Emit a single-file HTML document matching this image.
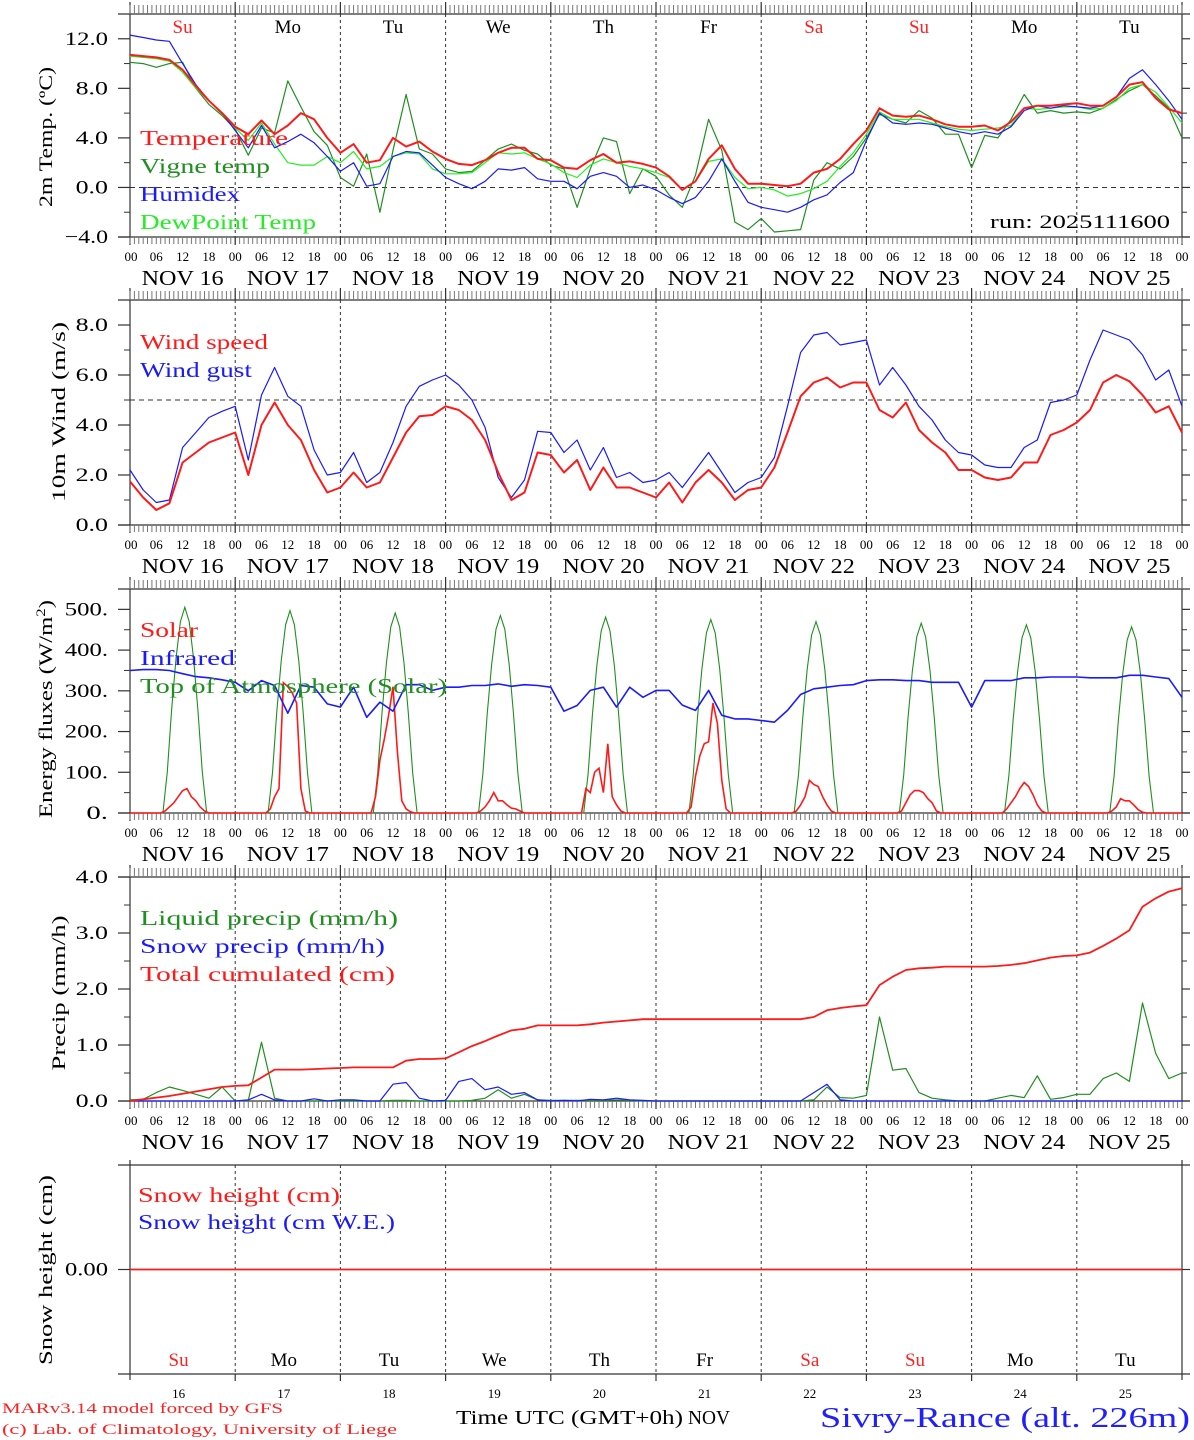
<!DOCTYPE html>
<html><head><meta charset="utf-8"><style>
html,body{margin:0;padding:0;background:#fff;}
svg{display:block;font-family:"Liberation Serif","DejaVu Serif",serif;}
</style></head><body>
<svg id="chart" xmlns="http://www.w3.org/2000/svg" width="1194" height="1440" viewBox="0 0 1194 1440">
<g id="static">
<text x="2" y="1413" fill="#ff2020" font-size="15" textLength="281" lengthAdjust="spacingAndGlyphs">MARv3.14 model forced by GFS</text>
<text x="2" y="1434" fill="#ff2020" font-size="15" textLength="395" lengthAdjust="spacingAndGlyphs">(c) Lab. of Climatology, University of Liege</text>
<text x="456" y="1424" fill="#000" font-size="20" textLength="227" lengthAdjust="spacingAndGlyphs">Time UTC (GMT+0h)</text>
<text x="688" y="1424" fill="#000" font-size="20" textLength="42" lengthAdjust="spacingAndGlyphs">NOV</text>
<text x="820" y="1427" fill="#2020ff" font-size="28" textLength="370" lengthAdjust="spacingAndGlyphs">Sivry-Rance (alt. 226m)</text>
<text x="990" y="228" fill="#000" font-size="19" textLength="180" lengthAdjust="spacingAndGlyphs">run: 2025111600</text>
</g>
</svg>
<script>
// ---------- data (3-hourly, 16 Nov 00h .. 26 Nov 00h) ----------
const dayNames = ["Su","Mo","Tu","We","Th","Fr","Sa","Su","Mo","Tu"];
const dayNums = ["16","17","18","19","20","21","22","23","24","25"];
const hourLabels = ["00","06","12","18"];
const tempTicks = ["12.0","8.0","4.0","0.0","-4.0"];
const windTicks = ["8.0","6.0","4.0","2.0","0.0"];
const fluxTicks = ["500.","400.","300.","200.","100.","0."];
const precipTicks = ["4.0","3.0","2.0","1.0","0.0"];

const temperature = [10.7,10.6,10.5,10.3,9.5,8.2,7.0,6.0, 4.9,4.3,5.4,4.3,5.0,6.0,5.5,4.0, 2.8,3.5,2.0,2.2,4.0,3.3,3.7,2.9, 2.3,1.9,1.8,2.2,2.8,3.2,3.2,2.3, 2.2,1.6,1.5,2.2,2.7,2.0,2.1,1.9, 1.6,0.9,-0.2,0.5,2.3,3.4,1.5,0.3, 0.3,0.2,0.1,0.3,1.2,1.5,2.3,3.5, 4.6,6.4,5.8,5.7,5.8,5.5,5.1,4.9, 4.9,5.0,4.6,5.3,6.4,6.6,6.6,6.7, 6.8,6.6,6.6,7.3,8.3,8.5,7.2,6.3,6.0];
const vigneTemp = [10.1,10.0,9.7,10.0,10.1,8.0,6.7,5.8, 4.7,2.6,4.8,4.4,8.6,6.5,4.5,3.4, 0.8,0.1,2.7,-2.0,3.0,7.5,3.1,2.7, 1.5,1.2,1.3,2.2,3.1,3.5,3.0,2.7, 1.8,1.5,-1.6,1.5,4.0,3.7,-0.5,1.5, 0.9,-0.6,-1.6,1.0,5.5,3.0,-2.8,-3.4, -2.5,-3.6,-3.5,-3.4,0.6,2.0,1.5,2.5, 4.0,5.9,5.5,5.2,6.2,5.6,4.3,4.3, 1.6,4.2,4.0,5.5,7.5,6.0,6.2,6.0, 6.1,6.0,6.4,7.1,7.8,8.3,7.4,6.4,4.0];
const humidex = [12.3,12.1,11.9,11.8,10.0,8.3,7.0,6.0, 4.6,3.2,5.0,3.2,3.7,4.3,3.6,2.5, 1.3,2.0,0.1,0.3,2.5,2.9,2.8,1.8, 0.8,0.3,-0.1,0.5,1.5,1.4,1.6,0.7, 0.5,0.5,-0.1,0.9,1.2,0.9,0.0,0.2, -0.2,-0.8,-1.3,-0.8,0.5,2.3,0.5,-1.2, -1.6,-1.8,-2.0,-1.6,-1.0,-0.6,0.4,1.2, 3.8,6.0,5.2,5.1,5.2,5.1,4.8,4.5, 4.3,4.5,4.3,4.9,6.2,6.6,6.4,6.6, 6.5,6.4,6.6,7.3,8.8,9.5,8.3,7.0,5.5];
const dewPoint = [10.6,10.5,10.4,10.2,9.3,8.0,7.0,5.9, 4.8,3.8,5.2,3.5,2.0,1.8,1.8,2.5, 2.0,2.9,1.5,1.7,2.5,2.8,2.7,1.5, 1.1,1.1,1.2,2.0,2.8,2.7,2.8,2.3, 1.9,1.2,0.8,1.8,2.3,2.0,1.7,1.5, 1.2,0.8,-0.2,0.5,2.1,2.3,0.8,-0.1, 0.0,-0.2,-0.7,-0.5,-0.1,0.5,1.7,2.8, 4.3,6.1,5.5,5.5,5.5,5.2,4.9,4.7, 4.6,4.7,4.8,5.0,6.4,6.3,6.4,6.5, 6.5,6.3,6.4,7.0,8.0,8.3,7.7,6.5,5.2];

const windSpeed = [1.74,1.1,0.6,0.87,2.5,2.9,3.3,3.5, 3.7,2.0,4.0,4.9,4.0,3.4,2.2,1.3, 1.5,2.1,1.5,1.7,2.7,3.7,4.35,4.4, 4.75,4.6,4.2,3.4,2.1,1.0,1.3,2.9, 2.8,2.1,2.6,1.4,2.3,1.5,1.5,1.3, 1.1,1.7,0.9,1.7,2.2,1.7,1.0,1.4, 1.5,2.3,3.7,5.15,5.7,5.9,5.5,5.7, 5.7,4.6,4.3,4.9,3.8,3.3,2.9,2.2, 2.2,1.9,1.8,1.9,2.5,2.5,3.6,3.8, 4.1,4.6,5.7,6.0,5.75,5.2,4.5,4.75,3.7];
const windGust = [2.2,1.4,0.9,1.0,3.1,3.7,4.3,4.55, 4.75,2.6,5.2,6.3,5.15,4.75,3.0,2.0, 2.1,2.9,1.7,2.1,3.3,4.75,5.55,5.8, 6.0,5.6,5.0,3.9,1.9,1.1,1.8,3.75, 3.7,2.9,3.4,2.2,3.1,1.9,2.1,1.7, 1.8,2.1,1.5,2.2,2.9,2.1,1.3,1.7, 1.9,2.7,4.75,6.9,7.6,7.7,7.2,7.3, 7.4,5.6,6.3,5.6,4.75,4.2,3.4,2.9, 2.8,2.4,2.3,2.3,3.1,3.4,4.9,5.0, 5.2,6.6,7.8,7.6,7.4,6.8,5.8,6.2,4.75];

const infrared = [350,352,352,350,342,335,332,327, 321,300,325,313,245,313,309,268, 260,309,235,272,250,315,315,301, 309,309,313,313,317,311,315,313, 309,250,264,301,309,260,309,284, 301,301,265,252,301,240,231,231, 227,223,252,291,305,309,313,315, 325,327,327,325,325,321,321,321, 260,325,325,325,332,332,334,334, 334,332,332,332,338,338,334,330,284];
const solarDay = [
 [0,5,15,25,40,55,60,40,30,15,5,0],
 [0,10,40,60,320,310,295,270,60,5,0,0],
 [0,40,130,180,240,310,150,30,10,3,0,0],
 [0,5,15,30,50,30,30,20,12,10,5,0],
 [0,60,50,100,110,50,170,40,20,5,0,0],
 [0,15,90,140,170,175,270,220,80,10,0,0],
 [0,5,20,40,80,70,65,40,20,5,0,0],
 [0,5,25,45,55,55,50,35,25,5,0,0],
 [0,10,25,40,60,75,65,45,20,5,0,0],
 [0,5,15,35,30,30,20,8,2,0,0,0]];
const toaDay = [
 [0,101,253,379,470,505,470,379,253,101,0],
 [0,99,249,373,462,497,462,373,249,99,0],
 [0,98,246,368,457,491,457,368,246,98,0],
 [0,97,243,364,451,485,451,364,243,97,0],
 [0,96,241,361,447,481,447,361,241,96,0],
 [0,95,238,356,442,475,442,356,238,95,0],
 [0,94,235,353,437,470,437,353,235,94,0],
 [0,93,233,350,433,466,433,350,233,93,0],
 [0,92,231,347,430,462,430,347,231,92,0],
 [0,91,229,343,425,457,425,343,229,91,0]];

const totalCum = [0,0.03,0.06,0.09,0.13,0.17,0.21,0.25, 0.27,0.28,0.42,0.56,0.56,0.56,0.57,0.58, 0.59,0.60,0.60,0.60,0.60,0.72,0.75,0.75, 0.76,0.87,0.98,1.07,1.17,1.26,1.29,1.35, 1.35,1.35,1.35,1.37,1.40,1.42,1.44,1.46, 1.46,1.46,1.46,1.46,1.46,1.46,1.46,1.46, 1.46,1.46,1.46,1.46,1.50,1.62,1.66,1.69, 1.71,2.07,2.22,2.34,2.37,2.38,2.40,2.40, 2.40,2.40,2.41,2.43,2.46,2.51,2.56,2.59, 2.60,2.65,2.77,2.90,3.05,3.47,3.62,3.74,3.80];
const liquidPrecip = [0.02,0.03,0.15,0.25,0.19,0.12,0.05,0.25, 0,0.01,1.05,0.05,0,0,0,0, 0,0,0,0,0.01,0.01,0,0, 0,0,0.01,0.05,0.2,0.05,0.12,0.02, 0.01,0.01,0.01,0.01,0.01,0.02,0.01,0, 0,0,0,0,0,0,0,0, 0,0,0,0,0.02,0.25,0.06,0.05, 0.1,1.5,0.55,0.58,0.15,0.05,0.02,0, 0,0,0.05,0.1,0.06,0.45,0.03,0.06, 0.12,0.12,0.4,0.5,0.35,1.75,0.85,0.4,0.5];
const snowPrecip = [0,0,0,0,0,0,0,0, 0,0.02,0.12,0.02,0,0,0.04,0, 0.02,0.02,0,0,0.3,0.33,0.05,0, 0.01,0.35,0.4,0.2,0.25,0.12,0.15,0.02, 0,0.01,0,0.03,0.02,0.05,0.02,0.01, 0,0,0,0,0,0,0,0, 0,0,0,0,0.15,0.3,0.02,0, 0,0,0,0,0,0,0,0, 0,0,0,0,0,0,0,0, 0,0,0,0,0,0,0,0,0];
const snowHeight = [0,0,0,0,0,0,0,0,0,0,0];

// ---------- geometry ----------
const NS="http://www.w3.org/2000/svg";
const svg=document.getElementById('chart');
const X0=130, X1=1182, HOURS=240;
function xh(h){return X0+(X1-X0)*h/HOURS;}
function el(tag,attrs,parent){const e=document.createElementNS(NS,tag);for(const k in attrs)e.setAttribute(k,attrs[k]);(parent||svg).appendChild(e);return e;}
function txt(s,attrs,parent){const t=el('text',attrs,parent);t.textContent=s;return t;}
function makeY(vmin,vmax,ybot,ytop){return v=>ybot-(v-vmin)*(ybot-ytop)/(vmax-vmin);}

const RED="#ff1a1a", GREEN="#1f8f1f", BLUE="#1a1aff", LGREEN="#22ee22";

function panel(name,top,bot,yfn,majors,majorLabels,minors,hourly){
  const g=el('g',{});
  
  
  el('line',{x1:118,y1:top,x2:X1+8,y2:top,stroke:'#333','stroke-width':1.2},g);
  el('line',{x1:118,y1:bot,x2:X1+8,y2:bot,stroke:'#333','stroke-width':1.2},g);
  el('line',{x1:X0,y1:top-12,x2:X0,y2:bot+8,stroke:'#333','stroke-width':1.2},g);
  el('line',{x1:X1,y1:top-12,x2:X1,y2:bot+8,stroke:'#333','stroke-width':1.2},g);
  for(let d=1;d<10;d++){const x=xh(d*24);
    const l=el('line',{x1:x,y1:top,x2:x,y2:bot,stroke:'#333','stroke-width':1,'stroke-dasharray':'3,3'},g);
    
    }
  if(hourly){
    let p='';
    for(let h=0;h<=HOURS;h++){const x=xh(h).toFixed(1);p+=`M${x} ${top-9}V${top}M${x} ${bot}V${bot+7}`;}
    el('path',{d:p,stroke:'#777','stroke-width':1},g);
    for(let d=1;d<10;d++){const x=xh(d*24);
      el('line',{x1:x,y1:top-12,x2:x,y2:top,stroke:'#333','stroke-width':1.2},g);
      el('line',{x1:x,y1:bot,x2:x,y2:bot+8,stroke:'#333','stroke-width':1.2},g);}
    for(let d=0;d<10;d++){
      for(let k=0;k<4;k++){
        const t=txt(hourLabels[k],{x:xh(d*24+k*6)+(d==0&&k==0?1:0),y:bot+24,'font-size':13,'text-anchor':'middle',fill:'#000'},g);
        
        
      }
      const dl=txt('NOV '+dayNums[d],{x:xh(d*24+12),y:bot+48,'font-size':21,'text-anchor':'middle',fill:'#000',textLength:82,lengthAdjust:'spacingAndGlyphs'},g);
      
      
    }
    txt('00',{x:X1,y:bot+24,'font-size':13,'text-anchor':'middle',fill:'#000'},g);
  }
  majors.forEach((v,i)=>{const y=yfn(v);
    el('line',{x1:118,y1:y,x2:X0,y2:y,stroke:'#333','stroke-width':1.2},g);
    el('line',{x1:X1,y1:y,x2:X1+8,y2:y,stroke:'#333','stroke-width':1.2},g);
    const s=majorLabels[i].replace('-','\u2212');
    const t=txt(s,{x:108,y:y+6,'font-size':19,'text-anchor':'end',fill:'#000',textLength:s.length*10.8,lengthAdjust:'spacingAndGlyphs'},g);
    
    
  });
  minors.forEach(v=>{const y=yfn(v);
    el('line',{x1:124,y1:y,x2:X0,y2:y,stroke:'#333','stroke-width':1},g);
    el('line',{x1:X1,y1:y,x2:X1+5,y2:y,stroke:'#333','stroke-width':1},g);});
  return g;
}
function series3h(arr,yfn,color,w,name,parent){
  const pts=arr.map((v,i)=>xh(i*3).toFixed(1)+','+yfn(v).toFixed(1)).join(' ');
  const p=el('polyline',{points:pts,fill:'none',stroke:color,'stroke-width':w,'stroke-linejoin':'round'},parent);
  
  
}
function seriesDaily(days,startH,yfn,color,w,name,parent){
  const pts=[];
  pts.push(xh(0)+','+yfn(0));
  days.forEach((arr,d)=>{arr.forEach((v,k)=>{pts.push(xh(d*24+startH+k).toFixed(1)+','+yfn(v).toFixed(1));});});
  pts.push(xh(HOURS)+','+yfn(0));
  const p=el('polyline',{points:pts.join(' '),fill:'none',stroke:color,'stroke-width':w},parent);
  
  
}
function legend(s,x,y,color,len,name,parent){
  const t=txt(s,{x:x,y:y,'font-size':21,fill:color,textLength:len,lengthAdjust:'spacingAndGlyphs'},parent);
  
  
}
function ytitle(s,cx,cy,len,name){
  const t=txt(s,{x:cx,y:cy,'font-size':19,'text-anchor':'middle',fill:'#000',transform:`rotate(-90 ${cx} ${cy})`,textLength:len,lengthAdjust:'spacingAndGlyphs'});
  
  
}

// ---------- Panel 1: temperature ----------
const yT=makeY(-4,14,237,14);
const g1=panel('temperature',14,237,yT,[12,8,4,0,-4],tempTicks,[10,6,2,-2],true);
el('line',{x1:X0,y1:yT(0),x2:X1,y2:yT(0),stroke:'#333','stroke-dasharray':'5,4','stroke-width':1},g1);
dayNames.forEach((n,d)=>{const red=(n=='Su'||n=='Sa');
  const t=txt(n,{x:xh(d*24+12),y:33,'font-size':19,'text-anchor':'middle',fill:red?'#ff2020':'#000'},g1);
  
  });
series3h(vigneTemp,yT,GREEN,1.2,'vigne-temp-line',g1);
series3h(dewPoint,yT,LGREEN,1.2,'dewpoint-line',g1);
series3h(humidex,yT,BLUE,1.2,'humidex-line',g1);
series3h(temperature,yT,RED,2,'temperature-line',g1);
legend('Temperature',140,145,RED,148,'legend-temperature',g1);
legend('Vigne temp',140,173,GREEN,130,'legend-vigne-temp',g1);
legend('Humidex',140,201,BLUE,100,'legend-humidex',g1);
legend('DewPoint Temp',140,229,LGREEN,176,'legend-dewpoint',g1);
ytitle('2m Temp. (\u00baC)',52,137,140,'y-axis-title-temp');

// ---------- Panel 2: wind ----------
const yW=makeY(0,9,525,300);
const g2=panel('wind',300,525,yW,[8,6,4,2,0],windTicks,[7,5,3,1],true);
el('line',{x1:X0,y1:yW(5),x2:X1,y2:yW(5),stroke:'#333','stroke-dasharray':'5,4','stroke-width':1},g2);
series3h(windGust,yW,BLUE,1.2,'wind-gust-line',g2);
series3h(windSpeed,yW,RED,2,'wind-speed-line',g2);
legend('Wind speed',140,349,RED,128,'legend-wind-speed',g2);
legend('Wind gust',140,377,BLUE,112,'legend-wind-gust',g2);
ytitle('10m Wind (m/s)',65,412,180,'y-axis-title-wind');

// ---------- Panel 3: energy fluxes ----------
const yF=makeY(0,550,813,589);
const g3=panel('energy',589,813,yF,[500,400,300,200,100,0],fluxTicks,[450,350,250,150,50],true);
seriesDaily(toaDay,7.5,yF,GREEN,1.1,'toa-solar-line',g3);
seriesDaily(solarDay,7,yF,RED,1.6,'solar-line',g3);
series3h(infrared,yF,BLUE,1.6,'infrared-line',g3);
legend('Solar',140,637,RED,58,'legend-solar',g3);
legend('Infrared',140,665,BLUE,95,'legend-infrared',g3);
legend('Top of Atmosphere (Solar)',140,693,GREEN,307,'legend-toa',g3);
const ft=txt('Energy fluxes (W/m',{x:0,y:0,'font-size':19,fill:'#000',transform:'translate(52 818) rotate(-90)',textLength:218,lengthAdjust:'spacingAndGlyphs'});


const sup=el('tspan',{dy:-7,'font-size':13},ft);sup.textContent='2';
const cl=el('tspan',{dy:7},ft);cl.textContent=')';

// ---------- Panel 4: precipitation ----------
const yP=makeY(0,4,1101,877);
const g4=panel('precip',877,1101,yP,[4,3,2,1,0],precipTicks,[3.5,2.5,1.5,0.5],true);
series3h(liquidPrecip,yP,GREEN,1.2,'liquid-precip-line',g4);
series3h(snowPrecip,yP,BLUE,1.2,'snow-precip-line',g4);
series3h(totalCum,yP,RED,1.8,'total-cumulated-line',g4);
legend('Liquid precip (mm/h)',140,925,GREEN,258,'legend-liquid-precip',g4);
legend('Snow precip (mm/h)',140,953,BLUE,245,'legend-snow-precip',g4);
legend('Total cumulated (cm)',140,981,RED,255,'legend-total-cumulated',g4);
ytitle('Precip (mm/h)',65,993,155,'y-axis-title-precip');

// ---------- Panel 5: snow height ----------
const yS=makeY(-1,1,1374,1165);
const g5=el('g',{});


el('line',{x1:118,y1:1165,x2:X1+8,y2:1165,stroke:'#333','stroke-width':1.2},g5);
el('line',{x1:118,y1:1374,x2:X1+8,y2:1374,stroke:'#555','stroke-width':1.5},g5);
el('line',{x1:X0,y1:1160,x2:X0,y2:1380,stroke:'#333','stroke-width':1.2},g5);
el('line',{x1:X1,y1:1160,x2:X1,y2:1380,stroke:'#333','stroke-width':1.2},g5);
el('line',{x1:118,y1:yS(0),x2:X0,y2:yS(0),stroke:'#333','stroke-width':1.2},g5);
el('line',{x1:X1,y1:yS(0),x2:X1+8,y2:yS(0),stroke:'#333','stroke-width':1.2},g5);
for(let d=1;d<10;d++){const x=xh(d*24);
  el('line',{x1:x,y1:1165,x2:x,y2:1374,stroke:'#333','stroke-width':1,'stroke-dasharray':'3,3'},g5);
  el('line',{x1:x,y1:1374,x2:x,y2:1381,stroke:'#333','stroke-width':1.2},g5);}
dayNames.forEach((n,d)=>{const red=(n=='Su'||n=='Sa');
  const t=txt(n,{x:xh(d*24+12)-4,y:1366,'font-size':19,'text-anchor':'middle',fill:red?'#ff2020':'#000'},g5);
  
  
  const t2=txt(dayNums[d],{x:xh(d*24+12)-4,y:1398,'font-size':13,'text-anchor':'middle',fill:'#000'},g5);
  
  });
txt('0.00',{x:108,y:yS(0)+6,'font-size':19,'text-anchor':'end',fill:'#000',textLength:43,lengthAdjust:'spacingAndGlyphs'},g5);
const snowPts=snowHeight.map((v,i)=>xh(i*24).toFixed(1)+','+yS(v).toFixed(1)).join(' ');
const sp=el('polyline',{points:snowPts,fill:'none',stroke:RED,'stroke-width':1.8},g5);


legend('Snow height (cm)',138,1202,RED,202,'legend-snow-height',g5);
legend('Snow height (cm W.E.)',138,1229,BLUE,257,'legend-snow-height-we',g5);
ytitle('Snow height (cm)',52,1270,190,'y-axis-title-snow');
</script>
</body></html>
